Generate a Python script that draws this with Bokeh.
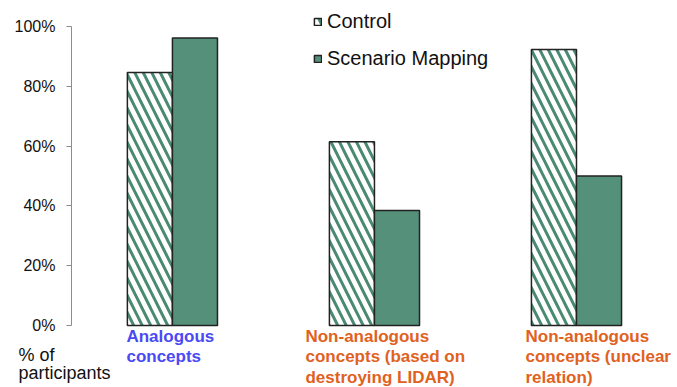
from bokeh.plotting import figure
from bokeh.models import (ColumnDataSource, Range1d, FixedTicker, PrintfTickFormatter,
                          Legend, LegendItem, Label)
from bokeh.transform import dodge
from bokeh.core.properties import value
from bokeh.embed import file_html
from bokeh.resources import INLINE

# Share of participants per concept type (%)
categories = ["Analogous concepts",
              "Non-analogous concepts (based on destroying LIDAR)",
              "Non-analogous concepts (unclear relation)"]
category_labels = ["Analogous\nconcepts",
                   "Non-analogous\nconcepts (based on\ndestroying LIDAR)",
                   "Non-analogous\nconcepts (unclear\nrelation)"]
control = [84.6, 61.5, 92.3]
scenario_mapping = [96.2, 38.5, 50.0]
y_ticks = [0, 20, 40, 60, 80, 100]

# styling
GREEN = "#55907a"
HATCH_GREEN = "#4b8a72"
label_colors = ["#4a4af5", "#e0621e", "#e0621e"]
label_shift = [-46, -69, -51]
FONT = "Liberation Sans"
AXIS_X = -0.5  # x position of the value axis, half a group left of the first group

src = ColumnDataSource(dict(
    pos=list(range(len(categories))),
    control=control,
    scenario=scenario_mapping,
    label=category_labels,
    color=label_colors,
    shift=label_shift,
))

p = figure(width=677, height=387, output_backend="svg", toolbar_location=None,
           x_range=Range1d(-0.851, 2.5), y_range=Range1d(-20.7, 108.7),
           x_axis_location=None, min_border_left=0, min_border_right=0,
           min_border_top=0, min_border_bottom=0)
p.outline_line_color = None
p.grid.grid_line_color = None
p.background_fill_color = "white"

bw = 0.223
r_ctrl = p.vbar(x=dodge("pos", -bw / 2, range=p.x_range), top="control", bottom=0,
                width=bw, source=src, fill_color="white", line_color="#222222",
                line_width=1.5, hatch_pattern="left_diagonal_line",
                hatch_color=HATCH_GREEN, hatch_scale=17, hatch_weight=3)
r_scen = p.vbar(x=dodge("pos", bw / 2, range=p.x_range), top="scenario", bottom=0,
                width=bw, source=src, fill_color=GREEN, line_color="#222222",
                line_width=1.5)

# category labels under each group
p.text(x="pos", y=0, text="label", source=src, text_color="color",
       x_offset="shift", y_offset=1, text_align="left", text_baseline="top",
       text_font=value(FONT), text_font_style="bold", text_font_size="17px",
       text_line_height=1.1)

# y axis, drawn at a fixed x inside the frame
ax = p.yaxis[0]
ax.fixed_location = AXIS_X
ax.bounds = (0, 100)
ax.ticker = FixedTicker(ticks=y_ticks)
ax.formatter = PrintfTickFormatter(format="%d%%")
ax.axis_line_color = "#8c8c8c"
ax.major_tick_line_color = "#8c8c8c"
ax.major_tick_out = 5
ax.major_tick_in = 0
ax.minor_tick_line_color = None
ax.major_label_standoff = 11
ax.major_label_text_font = FONT
ax.major_label_text_font_size = "16px"
ax.major_label_text_color = "#111111"

# y-axis caption written below the zero tick
p.add_layout(Label(x=AXIS_X, y=0, x_offset=-53, y_offset=-19,
                   text="% of\nparticipants",
                   text_font=FONT, text_font_size="18px", text_color="#111111",
                   text_baseline="top", text_line_height=0.9))

legend = Legend(items=[LegendItem(label="Control", renderers=[r_ctrl]),
                       LegendItem(label="Scenario Mapping", renderers=[r_scen])],
                location=(313, 317), orientation="vertical",
                glyph_width=9, glyph_height=9, label_height=20, spacing=14,
                label_standoff=5, padding=0, margin=0,
                label_text_font=FONT, label_text_font_size="20px",
                label_text_color="#111111",
                border_line_color=None, background_fill_alpha=0)
p.add_layout(legend)

open("out.html", "w").write(file_html(p, INLINE))
